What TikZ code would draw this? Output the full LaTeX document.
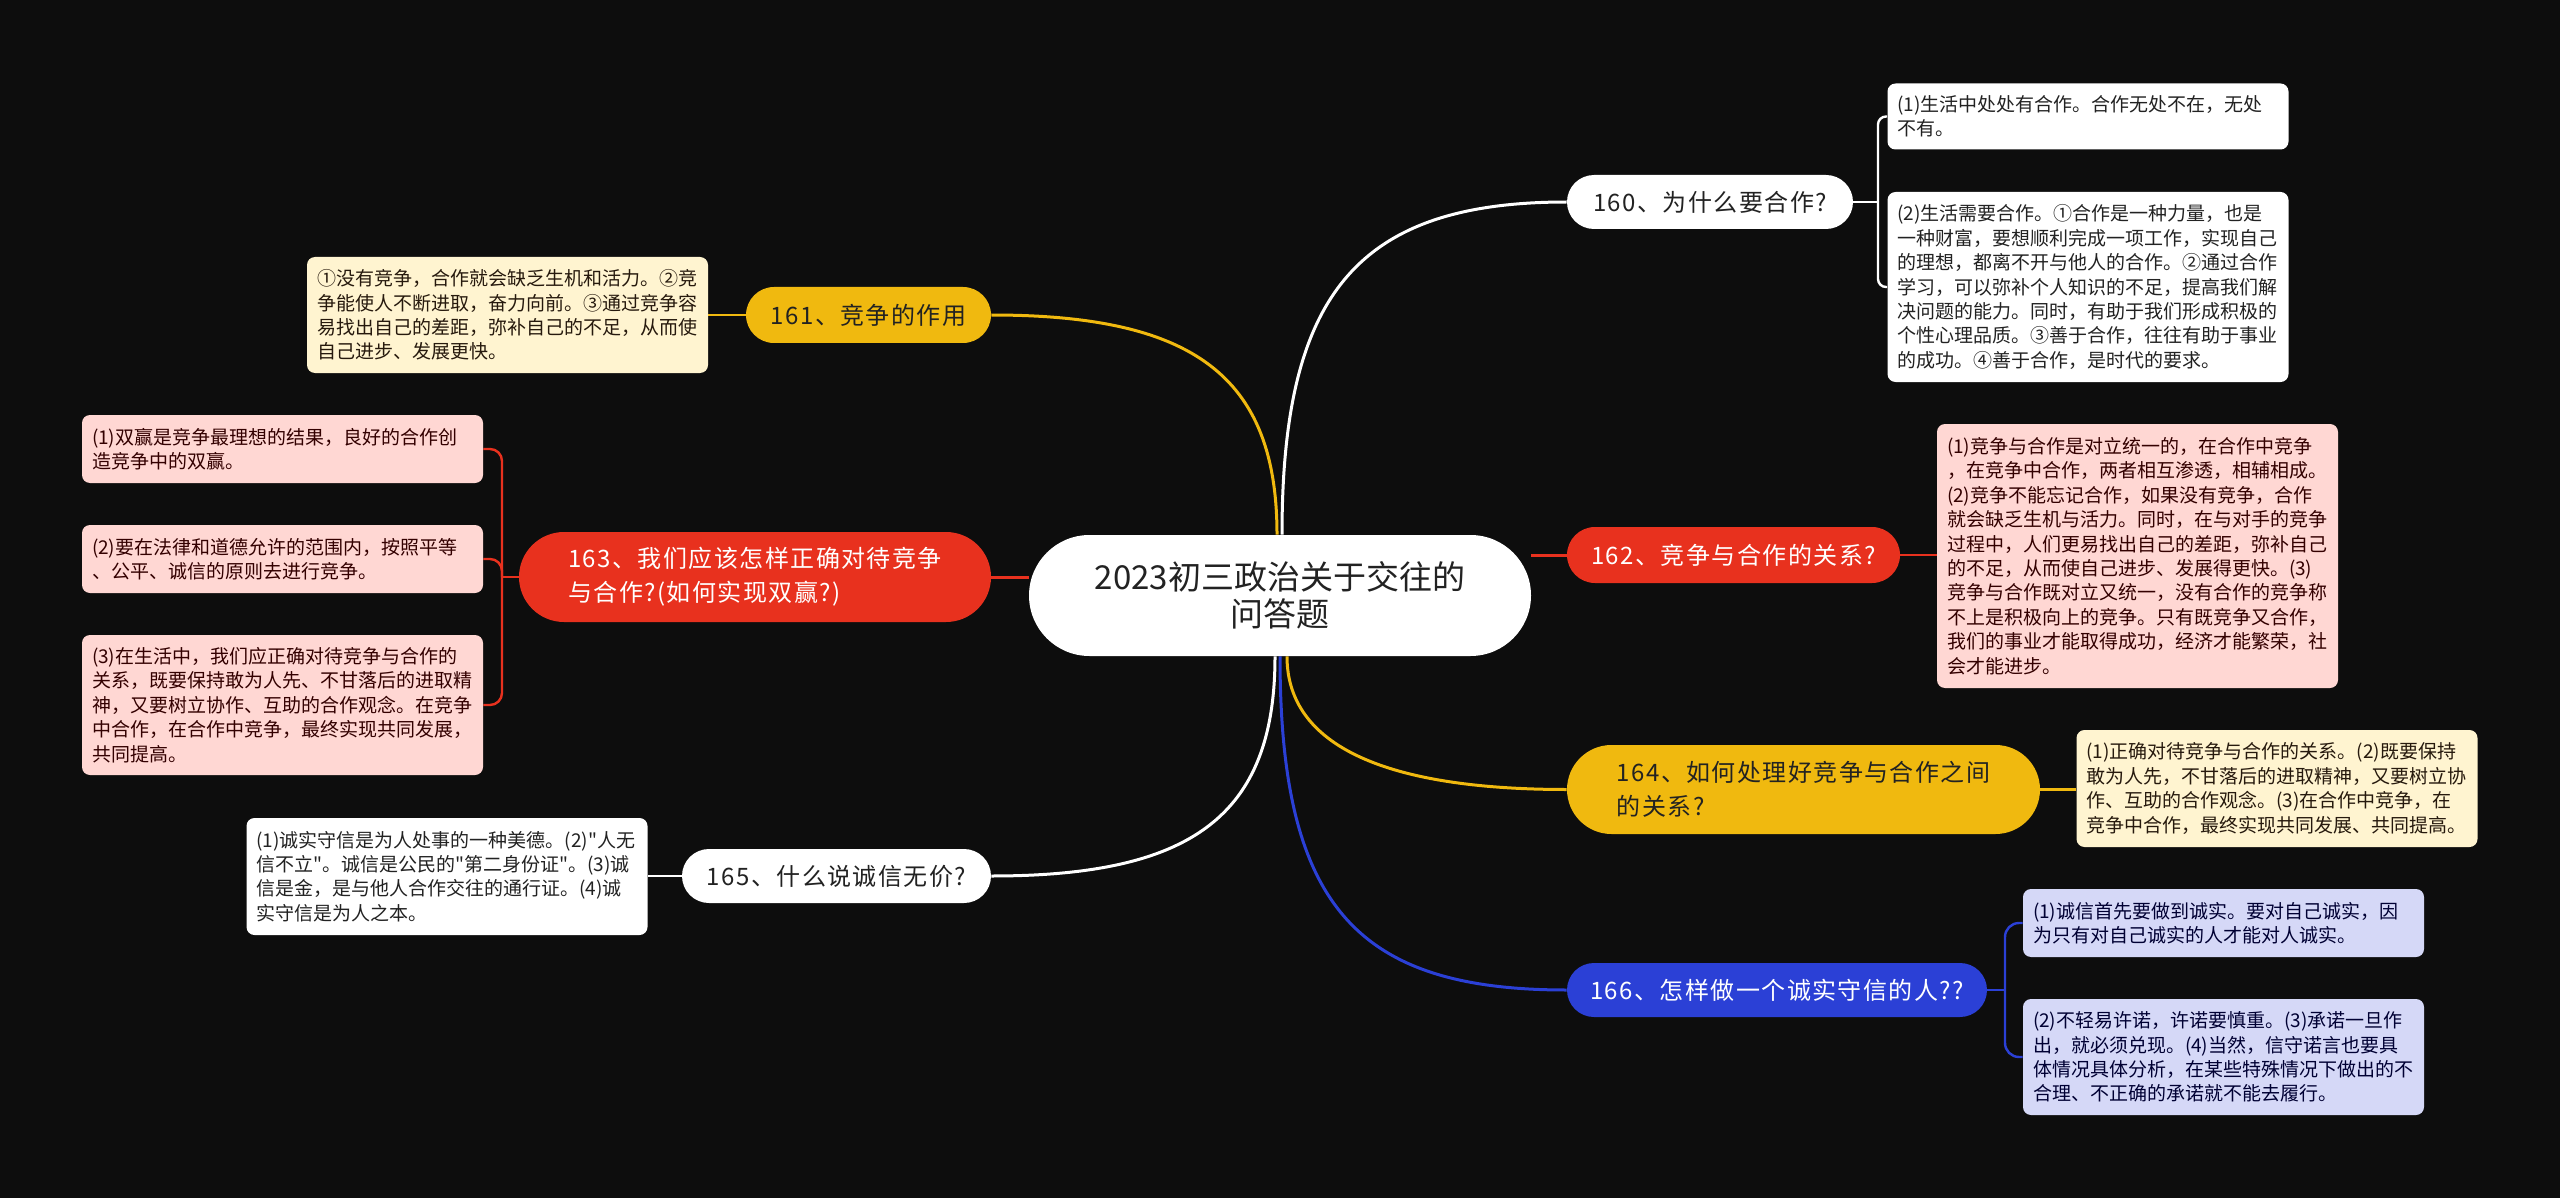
\documentclass[tikz,border=0pt]{standalone}
\usepackage{fontspec}
\setmainfont{Noto Sans CJK SC}
\newfontfamily\pillfont[LetterSpace=6]{Noto Sans CJK SC}
\font\qfont="Noto Sans CJK SC" at 9.5pt
\newcommand{\qq}{{\qfont"}}
\usetikzlibrary{shapes.misc}
\definecolor{bgc}{HTML}{0D0D0D}
\definecolor{yel}{HTML}{F0B90F}
\definecolor{redc}{HTML}{E8311E}
\definecolor{blu}{HTML}{2B40D6}
\definecolor{cream}{HTML}{FFF4D0}
\definecolor{pinkc}{HTML}{FFD7D3}
\definecolor{lav}{HTML}{D5D8F7}
\definecolor{txt}{HTML}{222222}
\pgfdeclarelayer{bg}
\pgfsetlayers{bg,main}
\tikzset{
  detail/.style={rounded corners=4pt, inner xsep=5pt, inner ysep=0pt, text width=190.5pt,
    minimum width=200.5pt, align=left, font=\fontsize{9.5}{12.2}\selectfont, text=txt},
  pill/.style={rounded rectangle, inner sep=0pt, align=left, font=\pillfont\fontsize{12}{17}\selectfont, text=txt},
  conn/.style={line width=1.5pt},
  brk/.style={line width=1.2pt},
}
\begin{document}
\begin{tikzpicture}[x=0.5pt,y=-0.5pt]
\begin{pgfonlayer}{bg}
\fill[bgc] (0,0) rectangle (2560,1198);
\end{pgfonlayer}
\useasboundingbox (0,0) rectangle (2560,1198);

% center
\node[rounded rectangle, fill=white, minimum width=251pt, minimum height=60.5pt, inner sep=0pt,
  align=center, font=\fontsize{16.5}{18.5}\selectfont, text=txt] (C) at (1280,595.5)
  {2023初三政治关于交往的\\问答题};

% pills
\node[pill, fill=white, minimum width=143pt, minimum height=27pt] (P160) at (1710,202) {160、为什么要合作?};
\node[pill, fill=yel, minimum width=122.5pt, minimum height=28pt] (P161) at (868.5,315) {161、竞争的作用};
\node[pill, fill=redc, text=white, minimum width=236pt, minimum height=45pt] (P163) at (755,577) {163、我们应该怎样正确对待竞争\\与合作?(如何实现双赢?)};
\node[pill, fill=white, minimum width=154.5pt, minimum height=27pt] (P165) at (836.5,876) {165、什么说诚信无价?};
\node[pill, fill=redc, text=white, minimum width=166.5pt, minimum height=28pt] (P162) at (1733.5,555) {162、竞争与合作的关系?};
\node[pill, fill=yel, minimum width=236.5pt, minimum height=44.5pt] (P164) at (1803.5,789.5) {164、如何处理好竞争与合作之间\\的关系?};
\node[pill, fill=blu, text=white, minimum width=210pt, minimum height=27pt] (P166) at (1777,990) {166、怎样做一个诚实守信的人??};

% details
\node[detail, fill=white, minimum height=33pt] (D160a) at (2088,116.5)
  {(1)生活中处处有合作。合作无处不在，无处\\不有。};
\node[detail, fill=white, minimum height=95pt] (D160b) at (2088,287)
  {(2)生活需要合作。①合作是一种力量，也是\\一种财富，要想顺利完成一项工作，实现自己\\的理想，都离不开与他人的合作。②通过合作\\学习，可以弥补个人知识的不足，提高我们解\\决问题的能力。同时，有助于我们形成积极的\\个性心理品质。③善于合作，往往有助于事业\\的成功。④善于合作，是时代的要求。};
\node[detail, fill=cream, text=black!80!brown, minimum height=58pt] (D161) at (507.5,315)
  {①没有竞争，合作就会缺乏生机和活力。②竞\\争能使人不断进取，奋力向前。③通过竞争容\\易找出自己的差距，弥补自己的不足，从而使\\自己进步、发展更快。};
\node[detail, fill=pinkc, text=black!80!red, minimum height=34pt] (D163a) at (282.5,449)
  {(1)双赢是竞争最理想的结果，良好的合作创\\造竞争中的双赢。};
\node[detail, fill=pinkc, text=black!80!red, minimum height=34pt] (D163b) at (282.5,559)
  {(2)要在法律和道德允许的范围内，按照平等\\、公平、诚信的原则去进行竞争。};
\node[detail, fill=pinkc, text=black!80!red, minimum height=70pt] (D163c) at (282.5,705)
  {(3)在生活中，我们应正确对待竞争与合作的\\关系，既要保持敢为人先、不甘落后的进取精\\神，又要树立协作、互助的合作观念。在竞争\\中合作，在合作中竞争，最终实现共同发展，\\共同提高。};
\node[detail, fill=white, minimum height=58.5pt] (D165) at (447,876.5)
  {(1)诚实守信是为人处事的一种美德。(2)\qq 人无\\信不立\qq。诚信是公民的\qq 第二身份证\qq。(3)诚\\信是金，是与他人合作交往的通行证。(4)诚\\实守信是为人之本。};
\node[detail, fill=pinkc, text=black!80!red, minimum height=132pt] (D162) at (2137.5,556)
  {(1)竞争与合作是对立统一的，在合作中竞争\\，在竞争中合作，两者相互渗透，相辅相成。\\(2)竞争不能忘记合作，如果没有竞争，合作\\就会缺乏生机与活力。同时，在与对手的竞争\\过程中，人们更易找出自己的差距，弥补自己\\的不足，从而使自己进步、发展得更快。(3)\\竞争与合作既对立又统一，没有合作的竞争称\\不上是积极向上的竞争。只有既竞争又合作，\\我们的事业才能取得成功，经济才能繁荣，社\\会才能进步。};
\node[detail, fill=cream, text=black!80!brown, minimum height=58.5pt] (D164) at (2277,788.5)
  {(1)正确对待竞争与合作的关系。(2)既要保持\\敢为人先，不甘落后的进取精神，又要树立协\\作、互助的合作观念。(3)在合作中竞争，在\\竞争中合作，最终实现共同发展、共同提高。};
\node[detail, fill=lav, text=black!80!blue, minimum height=34pt] (D166a) at (2223.5,923)
  {(1)诚信首先要做到诚实。要对自己诚实，因\\为只有对自己诚实的人才能对人诚实。};
\node[detail, fill=lav, text=black!80!blue, minimum height=58pt] (D166b) at (2223.5,1057)
  {(2)不轻易许诺，许诺要慎重。(3)承诺一旦作\\出，就必须兑现。(4)当然，信守诺言也要具\\体情况具体分析，在某些特殊情况下做出的不\\合理、不正确的承诺就不能去履行。};

\coordinate (s163) at (502,577);
\coordinate (s160) at (1878,202);
\coordinate (s166) at (2005,990);

\begin{pgfonlayer}{bg}
% main connectors
\draw[conn, white] ([xshift=1pt]C.north) .. controls +(0,-240) and +(-210,0) .. (P160.west);
\draw[conn, yel] ([xshift=-1.5pt]C.north) .. controls +(0,-160) and +(200,0) .. (P161.east);
\draw[conn, redc] (P163.east) -- (P163.east -| C.west);
\draw[conn, redc] (C.east |- P162.west) -- (P162.west);
\draw[conn, yel] ([xshift=3.5pt]C.south) .. controls +(0,90) and +(-180,0) .. (P164.west);
\draw[conn, blu] (C.south) .. controls +(0,250) and +(-210,0) .. (P166.west);
\draw[conn, white] ([xshift=-2.5pt]C.south) .. controls +(0,160) and +(200,0) .. (P165.east);
% single detail links
\draw[brk, yel] (P161.west) -- (D161.east |- P161.west);
\draw[brk, white] (P165.west) -- (D165.east |- P165.west);
\draw[brk, redc] (P162.east) -- (D162.west |- P162.east);
\draw[brk, yel] (P164.east) -- (D164.west |- P164.east);
% brackets
\draw[brk, redc] (P163.west) -- (s163);
\draw[brk, redc, rounded corners=6pt] (s163) |- (D163a.east);
\draw[brk, redc, rounded corners=6pt] (s163) |- (D163b.east);
\draw[brk, redc, rounded corners=6pt] (s163) |- (D163c.east);
\draw[brk, white] (P160.east) -- (s160);
\draw[brk, white, rounded corners=4pt] (s160) |- (D160a.west);
\draw[brk, white, rounded corners=4pt] (s160) |- (D160b.west);
\draw[brk, blu] (P166.east) -- (s166);
\draw[brk, blu, rounded corners=7pt] (s166) |- (D166a.west);
\draw[brk, blu, rounded corners=7pt] (s166) |- (D166b.west);
\end{pgfonlayer}
\end{tikzpicture}
\end{document}
